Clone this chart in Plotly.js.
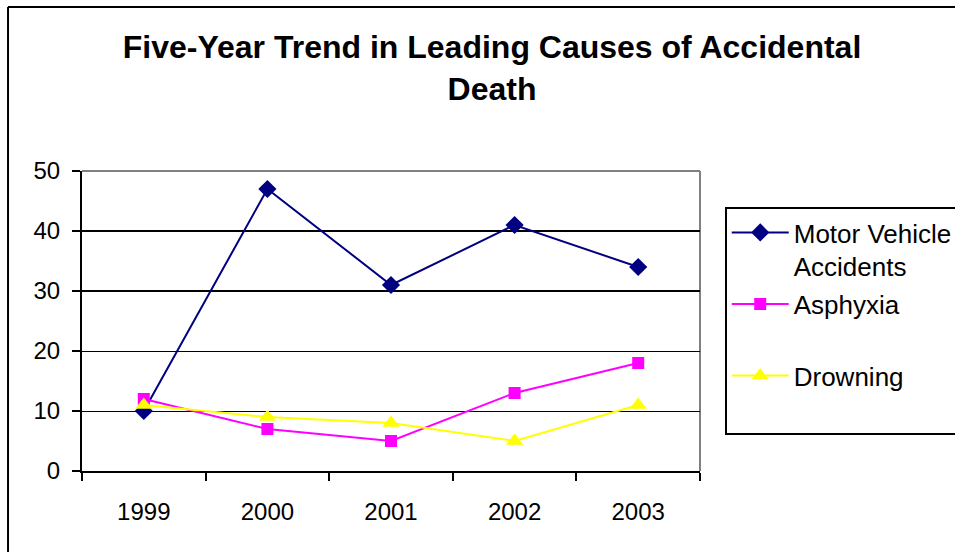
<!DOCTYPE html>
<html>
<head>
<meta charset="utf-8">
<script src="https://cdn.plot.ly/plotly-3.0.1.min.js"></script>
<style>
  html, body { margin: 0; padding: 0; background: #fff; }
  #chart { width: 955px; height: 552px; }
</style>
</head>
<body>
<div id="chart"></div>
<script>
// ---- data ----
const years = ["1999", "2000", "2001", "2002", "2003"];
const motorVehicle = [10, 47, 31, 41, 34];
const asphyxia = [12, 7, 5, 13, 18];
const drowning = [11, 9, 8, 5, 11];
const seriesNames = ["Motor Vehicle<br>Accidents", "Asphyxia<br> ", "Drowning<br> "];
const yTicks = [0, 10, 20, 30, 40, 50];
const titleText = "Five-Year Trend in Leading Causes of Accidental<br>Death";

const FONT = '"Liberation Sans", Arial, sans-serif';

const traces = [
  { x: years, y: motorVehicle, name: seriesNames[0], type: "scatter", mode: "lines+markers",
    legendgroup: "g1",
    line: { color: "#000080", width: 2 },
    marker: { symbol: "diamond", size: 14, color: "#000080" } },
  { x: years, y: asphyxia, name: seriesNames[1], type: "scatter", mode: "lines+markers",
    legendgroup: "g2",
    line: { color: "#FF00FF", width: 2 },
    marker: { symbol: "square", size: 12, color: "#FF00FF" } },
  { x: years, y: drowning, name: seriesNames[2], type: "scatter", mode: "lines+markers",
    legendgroup: "g3",
    line: { color: "#FFFF00", width: 2 },
    marker: { symbol: "triangle-up", size: 15, color: "#FFFF00" } }
];

const layout = {
  width: 955, height: 552,
  margin: { l: 82, r: 255, t: 171, b: 81, pad: 0, autoexpand: false },
  paper_bgcolor: "#fff", plot_bgcolor: "#fff",
  font: { family: FONT, color: "#000", size: 24 },
  title: {
    text: titleText,
    font: { family: FONT, size: 32, color: "#000", weight: "bold" },
    x: 492 / 955, xref: "container", xanchor: "center",
    y: 1 - 58 / 552, yref: "container", yanchor: "top"
  },
  showlegend: true,
  legend: {
    x: 1.040, y: 0.88, xanchor: "left", yanchor: "top",
    bgcolor: "#fff", bordercolor: "#000", borderwidth: 2,
    font: { family: FONT, size: 26, color: "#000" },
    valign: "top", traceorder: "grouped", tracegroupgap: 1,
    itemwidth: 57
  },
  xaxis: {
    type: "category", categoryorder: "array", categoryarray: years,
    range: [-0.5, 4.5],
    tickson: "boundaries", ticks: "outside", ticklen: 8, tickwidth: 2, tickcolor: "#000",
    ticklabelstandoff: 18,
    showline: true, linecolor: "#000", linewidth: 2,
    showgrid: false, zeroline: false,
    tickfont: { family: FONT, size: 24, color: "#000" },
    fixedrange: true
  },
  yaxis: {
    range: [0, 50], tickvals: yTicks, ticktext: yTicks.map(String),
    ticks: "outside", ticklen: 8, tickwidth: 2, tickcolor: "#000",
    ticklabelstandoff: 7,
    showline: true, linecolor: "#000", linewidth: 2,
    showgrid: true, gridcolor: "#000", gridwidth: 1,
    zeroline: false,
    tickfont: { family: FONT, size: 24, color: "#000" },
    fixedrange: true
  },
  yaxis2: {
    overlaying: "y", range: [0, 50], tickvals: [30, 40],
    showticklabels: false, ticks: "", showline: false,
    showgrid: true, gridcolor: "#000", gridwidth: 2, zeroline: false,
    fixedrange: true
  },
  shapes: [
    // gray top and right border of plot area
    { type: "line", xref: "paper", yref: "paper", x0: 0, x1: 1, y0: 1, y1: 1,
      line: { color: "#808080", width: 2 }, layer: "below" },
    { type: "line", xref: "paper", yref: "paper", x0: 1, x1: 1, y0: 0, y1: 1,
      line: { color: "#808080", width: 2 }, layer: "below" },
    // outer chart border (left + top)
    { type: "line", xref: "paper", yref: "paper", x0: -0.1197, x1: 2, y0: 1.5467, y1: 1.5467,
      line: { color: "#000", width: 2 } },
    { type: "line", xref: "paper", yref: "paper", x0: -0.1197, x1: -0.1197, y0: 1.5467, y1: -1,
      line: { color: "#000", width: 2 } }
  ]
};

// invisible trace that activates the yaxis2 gridlines
traces.push({ x: [years[0]], y: [null], yaxis: "y2", showlegend: false, hoverinfo: "skip",
  type: "scatter", mode: "markers" });

Plotly.newPlot("chart", traces, layout, { displayModeBar: false, staticPlot: true });
</script>
</body>
</html>
